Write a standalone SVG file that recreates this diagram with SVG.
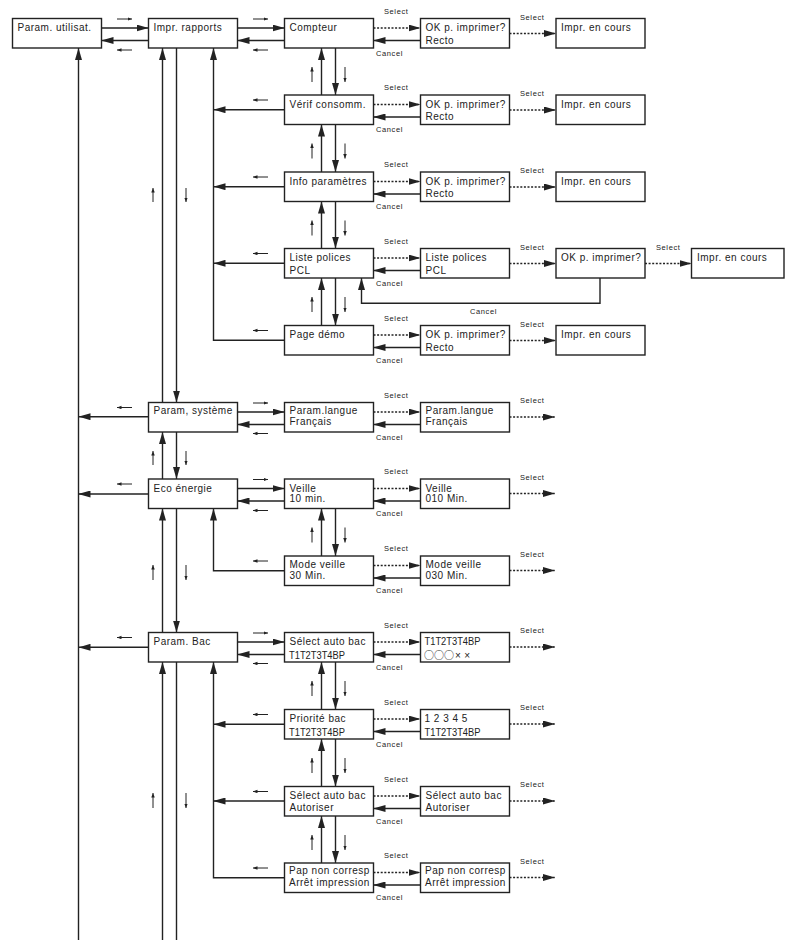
<svg xmlns="http://www.w3.org/2000/svg" width="787" height="945" viewBox="0 0 787 945">
<style>
.box{fill:#fff;stroke:#222;stroke-width:1.4}
.t{font-family:"Liberation Sans",Arial,sans-serif;font-size:10px;letter-spacing:0.5px;fill:#222}
.n{letter-spacing:0px;font-size:11px}
.s{font-family:"Liberation Sans",Arial,sans-serif;font-size:7.5px;letter-spacing:0.6px;fill:#222}
.cjk{font-family:"Noto Sans CJK JP",sans-serif;letter-spacing:0px}
.ln{fill:none;stroke:#222;stroke-width:1.4;marker-end:url(#ah)}
.pl{fill:none;stroke:#222;stroke-width:1.4}
.dot{stroke-dasharray:2 1.6}
.h{fill:none;stroke:#222;stroke-width:1;marker-end:url(#sh)}
</style>
<defs>
<marker id="ah" markerUnits="userSpaceOnUse" markerWidth="12" markerHeight="7" refX="12" refY="3.5" orient="auto"><path d="M0,0 L12,3.5 L0,7 z" fill="#222"/></marker>
<marker id="sh" markerUnits="userSpaceOnUse" markerWidth="5" markerHeight="4" refX="4.5" refY="1.75" orient="auto"><path d="M0,0 L4.5,1.75 L0,3.5 z" fill="#222"/></marker>
</defs>
<rect width="787" height="945" fill="#fff"/>

<g id="connectors">
<path class="ln" d="M78.5,940 V48"/>
<path class="ln" d="M148.5,416.7 H78.5"/>
<path class="ln" d="M148.5,494 H78.5"/>
<path class="ln" d="M148.5,647.3 H78.5"/>
<path class="ln" d="M101.5,28 H148.5"/>
<path class="ln" d="M148.5,40.5 H101.5"/>
<path class="ln" d="M237.5,28 H284.5"/>
<path class="ln" d="M284.5,40.5 H237.5"/>
<path class="ln" d="M237.5,412 H284.5"/>
<path class="ln" d="M284.5,424.5 H237.5"/>
<path class="ln" d="M237.5,488.5 H284.5"/>
<path class="ln" d="M284.5,501 H237.5"/>
<path class="ln" d="M237.5,642 H284.5"/>
<path class="ln" d="M284.5,654.5 H237.5"/>
<path class="ln" d="M162.5,402.5 V48"/>
<path class="ln" d="M176.5,48 V402.5"/>
<path class="ln" d="M162.5,479 V432"/>
<path class="ln" d="M176.5,432 V479"/>
<path class="ln" d="M162.5,632.5 V508.5"/>
<path class="ln" d="M176.5,508.5 V632.5"/>
<path class="ln" d="M162.5,940 V662"/>
<path class="pl" d="M176.5,662 V940"/>
<path class="ln" d="M284.5,340.3 H213.5 V48"/>
<path class="ln" d="M284.5,109.7 H213.5"/>
<path class="ln" d="M284.5,186.7 H213.5"/>
<path class="ln" d="M284.5,263.3 H213.5"/>
<path class="ln" d="M284.5,570.7 H213.5 V508.5"/>
<path class="ln" d="M284.5,877.7 H213.5 V662"/>
<path class="ln" d="M284.5,724.3 H213.5"/>
<path class="ln" d="M284.5,801 H213.5"/>
<path class="ln" d="M321.5,95 V48"/><path class="ln" d="M335.5,48 V95"/>
<path class="ln" d="M321.5,172 V124.5"/><path class="ln" d="M335.5,124.5 V172"/>
<path class="ln" d="M321.5,248.5 V201.5"/><path class="ln" d="M335.5,201.5 V248.5"/>
<path class="ln" d="M321.5,325.5 V278"/><path class="ln" d="M335.5,278 V325.5"/>
<path class="ln" d="M321.5,556 V508.5"/><path class="ln" d="M335.5,508.5 V556"/>
<path class="ln" d="M321.5,709.5 V662"/><path class="ln" d="M335.5,662 V709.5"/>
<path class="ln" d="M321.5,786.5 V739"/><path class="ln" d="M335.5,739 V786.5"/>
<path class="ln" d="M321.5,863 V816"/><path class="ln" d="M335.5,816 V863"/>
<path class="ln dot" d="M373.5,28 H420.5"/><path class="ln" d="M420.5,40.5 H373.5"/>
<path class="ln dot" d="M373.5,104.5 H420.5"/><path class="ln" d="M420.5,117 H373.5"/>
<path class="ln dot" d="M373.5,181.5 H420.5"/><path class="ln" d="M420.5,194 H373.5"/>
<path class="ln dot" d="M373.5,258 H420.5"/><path class="ln" d="M420.5,270.5 H373.5"/>
<path class="ln dot" d="M373.5,335 H420.5"/><path class="ln" d="M420.5,347.5 H373.5"/>
<path class="ln dot" d="M373.5,412 H420.5"/><path class="ln" d="M420.5,424.5 H373.5"/>
<path class="ln dot" d="M373.5,488.5 H420.5"/><path class="ln" d="M420.5,501 H373.5"/>
<path class="ln dot" d="M373.5,565.5 H420.5"/><path class="ln" d="M420.5,578 H373.5"/>
<path class="ln dot" d="M373.5,642 H420.5"/><path class="ln" d="M420.5,654.5 H373.5"/>
<path class="ln dot" d="M373.5,719 H420.5"/><path class="ln" d="M420.5,731.5 H373.5"/>
<path class="ln dot" d="M373.5,796 H420.5"/><path class="ln" d="M420.5,808.5 H373.5"/>
<path class="ln dot" d="M373.5,872.5 H420.5"/><path class="ln" d="M420.5,885 H373.5"/>
<path class="ln dot" d="M509.5,33.5 H556"/>
<path class="ln dot" d="M509.5,110 H556"/>
<path class="ln dot" d="M509.5,187 H556"/>
<path class="ln dot" d="M509.5,263.5 H556"/>
<path class="ln dot" d="M645,263.5 H691.5"/>
<path class="ln dot" d="M509.5,340.5 H556"/>
<path class="ln dot" d="M509.5,417 H555"/>
<path class="ln dot" d="M509.5,493.5 H555"/>
<path class="ln dot" d="M509.5,570.5 H555"/>
<path class="ln dot" d="M509.5,647 H555"/>
<path class="ln dot" d="M509.5,724 H555"/>
<path class="ln dot" d="M509.5,801 H555"/>
<path class="ln dot" d="M509.5,877.5 H555"/>
<path class="ln" d="M600,278 V303.3 H361.5 V278"/>
<g class="labels">
<text class="s" x="384" y="13.5">Select</text><text class="s" x="376" y="55.5">Cancel</text><text class="s" x="520" y="19.5">Select</text>
<text class="s" x="384" y="90">Select</text><text class="s" x="376" y="132">Cancel</text><text class="s" x="520" y="96">Select</text>
<text class="s" x="384" y="167">Select</text><text class="s" x="376" y="209">Cancel</text><text class="s" x="520" y="173">Select</text>
<text class="s" x="384" y="243.5">Select</text><text class="s" x="376" y="285.5">Cancel</text><text class="s" x="520" y="249.5">Select</text><text class="s" x="656" y="249.5">Select</text><text class="s" x="470" y="314">Cancel</text>
<text class="s" x="384" y="320.5">Select</text><text class="s" x="376" y="362.5">Cancel</text><text class="s" x="520" y="326.5">Select</text>
<text class="s" x="384" y="397.5">Select</text><text class="s" x="376" y="439.5">Cancel</text><text class="s" x="520" y="403">Select</text>
<text class="s" x="384" y="474">Select</text><text class="s" x="376" y="516">Cancel</text><text class="s" x="520" y="479.5">Select</text>
<text class="s" x="384" y="551">Select</text><text class="s" x="376" y="593">Cancel</text><text class="s" x="520" y="556.5">Select</text>
<text class="s" x="384" y="627.5">Select</text><text class="s" x="376" y="669.5">Cancel</text><text class="s" x="520" y="633">Select</text>
<text class="s" x="384" y="704.5">Select</text><text class="s" x="376" y="746.5">Cancel</text><text class="s" x="520" y="710">Select</text>
<text class="s" x="384" y="781.5">Select</text><text class="s" x="376" y="823.5">Cancel</text><text class="s" x="520" y="787">Select</text>
<text class="s" x="384" y="858">Select</text><text class="s" x="376" y="900">Cancel</text><text class="s" x="520" y="863.5">Select</text>
</g>
<g class="hints">
<path class="h" d="M117,19 H132"/><path class="h" d="M132,50 H117"/>
<path class="h" d="M253,19 H268"/><path class="h" d="M268,50 H253"/>
<path class="h" d="M253,403 H268"/><path class="h" d="M268,433.5 H253"/>
<path class="h" d="M253,479.5 H268"/><path class="h" d="M268,510.5 H253"/>
<path class="h" d="M253,633 H268"/><path class="h" d="M268,663.5 H253"/>
<path class="h" d="M268,100 H253"/><path class="h" d="M268,177 H253"/><path class="h" d="M268,253.5 H253"/><path class="h" d="M268,330.5 H253"/>
<path class="h" d="M268,561 H253"/><path class="h" d="M268,714.5 H253"/><path class="h" d="M268,791.5 H253"/><path class="h" d="M268,868 H253"/>
<path class="h" d="M132,407.5 H117"/><path class="h" d="M132,484 H117"/><path class="h" d="M132,637.5 H117"/>
<path class="h" d="M312,82 V67"/><path class="h" d="M345,67 V82"/>
<path class="h" d="M312,158.5 V143.5"/><path class="h" d="M345,143.5 V158.5"/>
<path class="h" d="M312,235.5 V220.5"/><path class="h" d="M345,220.5 V235.5"/>
<path class="h" d="M312,312 V297"/><path class="h" d="M345,297 V312"/>
<path class="h" d="M312,542.5 V527.5"/><path class="h" d="M345,527.5 V542.5"/>
<path class="h" d="M312,696 V681"/><path class="h" d="M345,681 V696"/>
<path class="h" d="M312,773 V758"/><path class="h" d="M345,758 V773"/>
<path class="h" d="M312,850 V835"/><path class="h" d="M345,835 V850"/>
<path class="h" d="M153,202 V188"/><path class="h" d="M186,188 V202"/>
<path class="h" d="M153,465 V451"/><path class="h" d="M186,451 V465"/>
<path class="h" d="M153,580 V565"/><path class="h" d="M186,565 V580"/>
<path class="h" d="M153,808 V793"/><path class="h" d="M186,793 V808"/>
</g>
</g>

<g id="n_param_utilisat"><rect class="box" x="12.5" y="18.5" width="89" height="29.5"/><text class="t" x="17.5" y="31">Param. utilisat.</text></g>
<g id="n_impr_rapports"><rect class="box" x="148.5" y="18.5" width="89" height="29.5"/><text class="t" x="153.5" y="31">Impr. rapports</text></g>
<g id="n_compteur"><rect class="box" x="284.5" y="18.5" width="89" height="29.5"/><text class="t" x="289.5" y="31">Compteur</text></g>
<g id="n_compteur_ok"><rect class="box" x="420.5" y="18.5" width="89" height="29.5"/><text class="t" x="425.5" y="31">OK p. imprimer?</text><text class="t" x="425.5" y="43.5">Recto</text></g>
<g id="n_compteur_impr"><rect class="box" x="556" y="18.5" width="89" height="29.5"/><text class="t" x="561" y="31">Impr. en cours</text></g>

<g id="n_verif"><rect class="box" x="284.5" y="95" width="89" height="29.5"/><text class="t" x="289.5" y="107.5">Vérif consomm.</text></g>
<g id="n_verif_ok"><rect class="box" x="420.5" y="95" width="89" height="29.5"/><text class="t" x="425.5" y="107.5">OK p. imprimer?</text><text class="t" x="425.5" y="120">Recto</text></g>
<g id="n_verif_impr"><rect class="box" x="556" y="95" width="89" height="29.5"/><text class="t" x="561" y="107.5">Impr. en cours</text></g>

<g id="n_info"><rect class="box" x="284.5" y="172" width="89" height="29.5"/><text class="t" x="289.5" y="184.5">Info paramètres</text></g>
<g id="n_info_ok"><rect class="box" x="420.5" y="172" width="89" height="29.5"/><text class="t" x="425.5" y="184.5">OK p. imprimer?</text><text class="t" x="425.5" y="197">Recto</text></g>
<g id="n_info_impr"><rect class="box" x="556" y="172" width="89" height="29.5"/><text class="t" x="561" y="184.5">Impr. en cours</text></g>

<g id="n_liste"><rect class="box" x="284.5" y="248.5" width="89" height="29.5"/><text class="t" x="289.5" y="261">Liste polices</text><text class="t" x="289.5" y="273.5">PCL</text></g>
<g id="n_liste2"><rect class="box" x="420.5" y="248.5" width="89" height="29.5"/><text class="t" x="425.5" y="261">Liste polices</text><text class="t" x="425.5" y="273.5">PCL</text></g>
<g id="n_liste_ok"><rect class="box" x="556" y="248.5" width="89" height="29.5"/><text class="t" x="561" y="261">OK p. imprimer?</text></g>
<g id="n_liste_impr"><rect class="box" x="691.5" y="248.5" width="92.5" height="29.5"/><text class="t" x="697" y="261">Impr. en cours</text></g>

<g id="n_page"><rect class="box" x="284.5" y="325.5" width="89" height="29.5"/><text class="t" x="289.5" y="338">Page démo</text></g>
<g id="n_page_ok"><rect class="box" x="420.5" y="325.5" width="89" height="29.5"/><text class="t" x="425.5" y="338">OK p. imprimer?</text><text class="t" x="425.5" y="350.5">Recto</text></g>
<g id="n_page_impr"><rect class="box" x="556" y="325.5" width="89" height="29.5"/><text class="t" x="561" y="338">Impr. en cours</text></g>

<g id="n_param_sys"><rect class="box" x="148.5" y="402.5" width="89" height="29.5"/><text class="t" x="153.5" y="414">Param, système</text></g>
<g id="n_langue"><rect class="box" x="284.5" y="402.5" width="89" height="29.5"/><text class="t" x="289.5" y="414">Param.langue</text><text class="t" x="289.5" y="424.5">Français</text></g>
<g id="n_langue2"><rect class="box" x="420.5" y="402.5" width="89" height="29.5"/><text class="t" x="425.5" y="414">Param.langue</text><text class="t" x="425.5" y="424.5">Français</text></g>

<g id="n_eco"><rect class="box" x="148.5" y="479" width="89" height="29.5"/><text class="t" x="153.5" y="491.5">Eco énergie</text></g>
<g id="n_veille"><rect class="box" x="284.5" y="479" width="89" height="29.5"/><text class="t" x="289.5" y="491.5">Veille</text><text class="t" x="289.5" y="502">10 min.</text></g>
<g id="n_veille2"><rect class="box" x="420.5" y="479" width="89" height="29.5"/><text class="t" x="425.5" y="491.5">Veille</text><text class="t" x="425.5" y="502">010 Min.</text></g>
<g id="n_mode"><rect class="box" x="284.5" y="556" width="89" height="29.5"/><text class="t" x="289.5" y="567.5">Mode veille</text><text class="t" x="289.5" y="578.5">30 Min.</text></g>
<g id="n_mode2"><rect class="box" x="420.5" y="556" width="89" height="29.5"/><text class="t" x="425.5" y="567.5">Mode veille</text><text class="t" x="425.5" y="578.5">030 Min.</text></g>

<g id="n_bac"><rect class="box" x="148.5" y="632.5" width="89" height="29.5"/><text class="t" x="153.5" y="645">Param. Bac</text></g>
<g id="n_selauto"><rect class="box" x="284.5" y="632.5" width="89" height="29.5"/><text class="t" x="289.5" y="645">Sélect auto bac</text><text class="t n" x="289" y="658.5" textLength="56" lengthAdjust="spacingAndGlyphs">T1T2T3T4BP</text></g>
<g id="n_selauto2"><rect class="box" x="420.5" y="632.5" width="89" height="29.5"/><text class="t n" x="424.5" y="645" textLength="56" lengthAdjust="spacingAndGlyphs">T1T2T3T4BP</text><text class="t" x="424" y="659"><tspan class="cjk">○○○</tspan><tspan dx="1">×</tspan><tspan dx="3">×</tspan></text></g>
<g id="n_prio"><rect class="box" x="284.5" y="709.5" width="89" height="29.5"/><text class="t" x="289.5" y="722">Priorité bac</text><text class="t n" x="289" y="735.5" textLength="56" lengthAdjust="spacingAndGlyphs">T1T2T3T4BP</text></g>
<g id="n_prio2"><rect class="box" x="420.5" y="709.5" width="89" height="29.5"/><text class="t" x="424.5" y="722">1 2 3 4 5</text><text class="t n" x="424.5" y="735.5" textLength="56" lengthAdjust="spacingAndGlyphs">T1T2T3T4BP</text></g>
<g id="n_selaut"><rect class="box" x="284.5" y="786.5" width="89" height="29.5"/><text class="t" x="289.5" y="799">Sélect auto bac</text><text class="t" x="289.5" y="811">Autoriser</text></g>
<g id="n_selaut2"><rect class="box" x="420.5" y="786.5" width="89" height="29.5"/><text class="t" x="425.5" y="799">Sélect auto bac</text><text class="t" x="425.5" y="811">Autoriser</text></g>
<g id="n_pap"><rect class="box" x="284.5" y="863" width="89" height="29.5"/><text class="t" x="289" y="874">Pap non corresp</text><text class="t" x="289" y="885.5">Arrêt impression</text></g>
<g id="n_pap2"><rect class="box" x="420.5" y="863" width="89" height="29.5"/><text class="t" x="425" y="874">Pap non corresp</text><text class="t" x="425" y="885.5">Arrêt impression</text></g>
</svg>
